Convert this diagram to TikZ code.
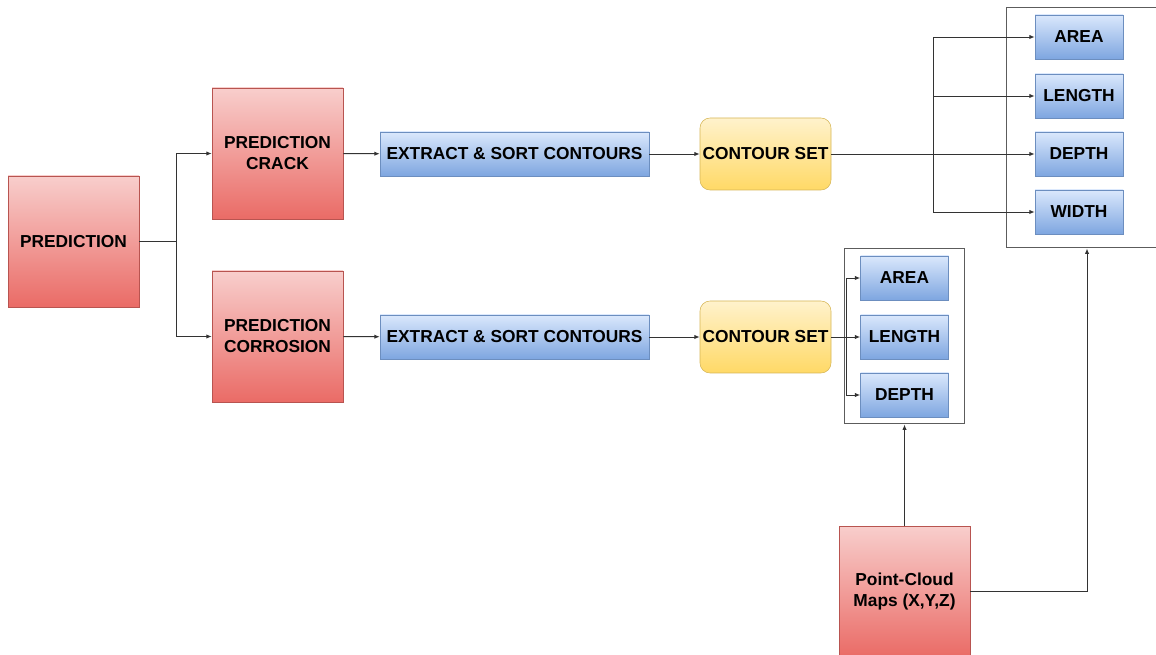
\documentclass[tikz,border=0pt]{standalone}
\usepackage{fontspec}
\setmainfont{Liberation Sans}
\usetikzlibrary{arrows.meta}
\definecolor{redtop}{HTML}{F8CECC}
\definecolor{redbot}{HTML}{EA6B66}
\definecolor{redline}{HTML}{B85450}
\definecolor{bluetop}{HTML}{DAE8FC}
\definecolor{bluebot}{HTML}{7EA6E0}
\definecolor{blueline}{HTML}{6C8EBF}
\definecolor{yeltop}{HTML}{FFF2CC}
\definecolor{yelbot}{HTML}{FFD966}
\definecolor{yelline}{HTML}{D6B656}
\definecolor{wire}{HTML}{333333}
\tikzset{
  redbox/.style={draw=redline, top color=redtop, bottom color=redbot, minimum width=98.25pt, minimum height=98.25pt, align=center},
  bluebox/.style={draw=blueline, top color=bluetop, bottom color=bluebot, minimum height=33pt, inner sep=0pt},
  setbox/.style={draw=yelline, top color=yeltop, bottom color=yelbot, rounded corners=7.5pt, minimum width=98.25pt, minimum height=54pt, inner sep=0pt},
  groupbox/.style={draw=wire!80, line width=0.75pt, fill=white, inner sep=0pt},
  wireto/.style={draw=wire, line width=0.7pt, -{Latex[length=4pt,width=3.2pt]}},
}
\begin{document}
\begin{tikzpicture}[x=0.75pt, y=-0.75pt, every node/.style={font=\bfseries\fontsize{13}{15.75}\selectfont}]
    \useasboundingbox (0,0) rectangle (1156,655);
    % left side
    \node [redbox] (pred) at (73.5,241.5) {PREDICTION};
    \node [redbox] (crack) at (277.5,153.5) {PREDICTION\\CRACK};
    \node [redbox] (corr) at (277.5,336.5) {PREDICTION\\CORROSION};
    \node [bluebox, minimum width=201.75pt] (ext1) at (514.5,154) {EXTRACT \& SORT CONTOURS};
    \node [bluebox, minimum width=201.75pt] (ext2) at (514.5,337) {EXTRACT \& SORT CONTOURS};
    \node [setbox] (set1) at (765.5,154) {CONTOUR SET};
    \node [setbox] (set2) at (765.5,337) {CONTOUR SET};
    % containers
    \node [groupbox, minimum width=120.75pt, minimum height=180pt] (box1) at (1087,128) {};
    \node [groupbox, minimum width=90pt, minimum height=131.25pt] (box2) at (904.5,336.5) {};
    % crack features
    \node [bluebox, minimum width=66pt] (a1) at (1079,37) {AREA};
    \node [bluebox, minimum width=66pt] (l1) at (1079,96) {LENGTH};
    \node [bluebox, minimum width=66pt] (d1) at (1079,154) {DEPTH};
    \node [bluebox, minimum width=66pt] (w1) at (1079,212) {WIDTH};
    % corrosion features
    \node [bluebox, minimum width=66pt] (a2) at (904.5,278) {AREA};
    \node [bluebox, minimum width=66pt] (l2) at (904.5,337) {LENGTH};
    \node [bluebox, minimum width=66pt] (d2) at (904.5,395) {DEPTH};
    \node [redbox] (pc) at (904.5,591.5) {Point-Cloud\\Maps (X,Y,Z)};
    \coordinate (j0) at (176,241.5);
    \coordinate (j1) at (933,154);
    \coordinate (j2) at (846,337);
    % connectors
    \draw [wireto] (pred.east) -- (j0) |- (crack.west);
    \draw [wireto] (j0) |- (corr.west);
    \draw [wireto] (crack) -- (ext1);
    \draw [wireto] (corr) -- (ext2);
    \draw [wireto] (ext1) -- (set1);
    \draw [wireto] (ext2) -- (set2);
    \draw [wireto] (set1.east) -- (d1.west);
    \draw [wireto] (j1) |- (a1.west);
    \draw [wireto] (j1) |- (l1.west);
    \draw [wireto] (j1) |- (w1.west);
    \draw [wireto] (set2.east) -- (l2.west);
    \draw [wireto] (j2) |- (a2.west);
    \draw [wireto] (j2) |- (d2.west);
    \draw [wireto] (pc.north) -- (box2.south);
    \draw [wireto] (pc.east) -| (box1.south);
\end{tikzpicture}
\end{document}
